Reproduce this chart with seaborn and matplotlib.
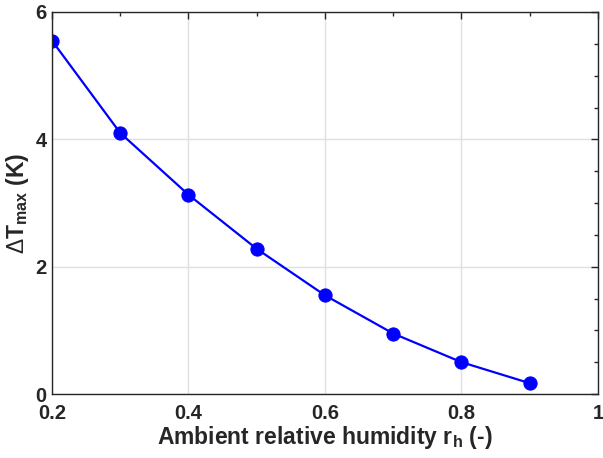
import matplotlib
matplotlib.use("Agg")
import matplotlib.pyplot as plt
import seaborn as sns
import pandas as pd
from matplotlib.ticker import MultipleLocator

humidity = [0.2, 0.3, 0.4, 0.5, 0.6, 0.7, 0.8, 0.9]
delta_t = [5.55, 4.10, 3.13, 2.28, 1.55, 0.95, 0.50, 0.17]
x_ticks = [0.2, 0.4, 0.6, 0.8, 1.0]
x_tick_labels = ["0.2", "0.4", "0.6", "0.8", "1"]
y_ticks = [0, 2, 4, 6]
y_tick_labels = ["0", "2", "4", "6"]

sns.set_style("white")
plt.rcParams['font.family'] = ['Liberation Sans', 'DejaVu Sans']
plt.rcParams['mathtext.fontset'] = 'custom'
plt.rcParams['mathtext.rm'] = 'Liberation Sans'
plt.rcParams['mathtext.bf'] = 'Liberation Sans:bold'
plt.rcParams['mathtext.it'] = 'Liberation Sans:bold'

df = pd.DataFrame({"x": humidity, "y": delta_t})

fig = plt.figure(figsize=(6.03, 4.58), dpi=100)
ax = fig.add_axes([0.0862, 0.1397, 0.9055, 0.8341])
sns.lineplot(data=df, x="x", y="y", ax=ax, color="#0000ff", linewidth=1.6,
             marker="o", markersize=9.5, markeredgecolor="#0000ff")

ax.set_xlim(0.2, 1.0)
ax.set_ylim(0, 6)
ax.set_xticks(x_ticks)
ax.set_xticklabels(x_tick_labels)
ax.set_yticks(y_ticks)
ax.set_yticklabels(y_tick_labels)
ax.xaxis.set_minor_locator(MultipleLocator(0.1))
ax.yaxis.set_minor_locator(MultipleLocator(0.5))
ax.grid(True, which="major", color="#e0e0e0", linewidth=1)
ax.tick_params(which="both", direction="in", top=True, right=True, color="#262626")
ax.tick_params(which="major", length=5, width=1, labelsize=14.5)
ax.tick_params(axis="x", which="major", pad=7)
ax.tick_params(axis="y", which="major", pad=4)
ax.tick_params(which="minor", length=3, width=1)
for lbl in ax.get_xticklabels() + ax.get_yticklabels():
    lbl.set_fontweight("bold")
for s in ax.spines.values():
    s.set_color("#262626")
    s.set_linewidth(1)

ax.set_xlabel(r"Ambient relative humidity r$_{\mathbf{h}}$ (-)", fontsize=16.5, fontweight="bold", labelpad=1)
ax.set_ylabel(r"$\Delta$T$_{\mathbf{max}}$ (K)", fontsize=16.5, fontweight="bold", labelpad=3)

fig.savefig("out.png", dpi=100)
